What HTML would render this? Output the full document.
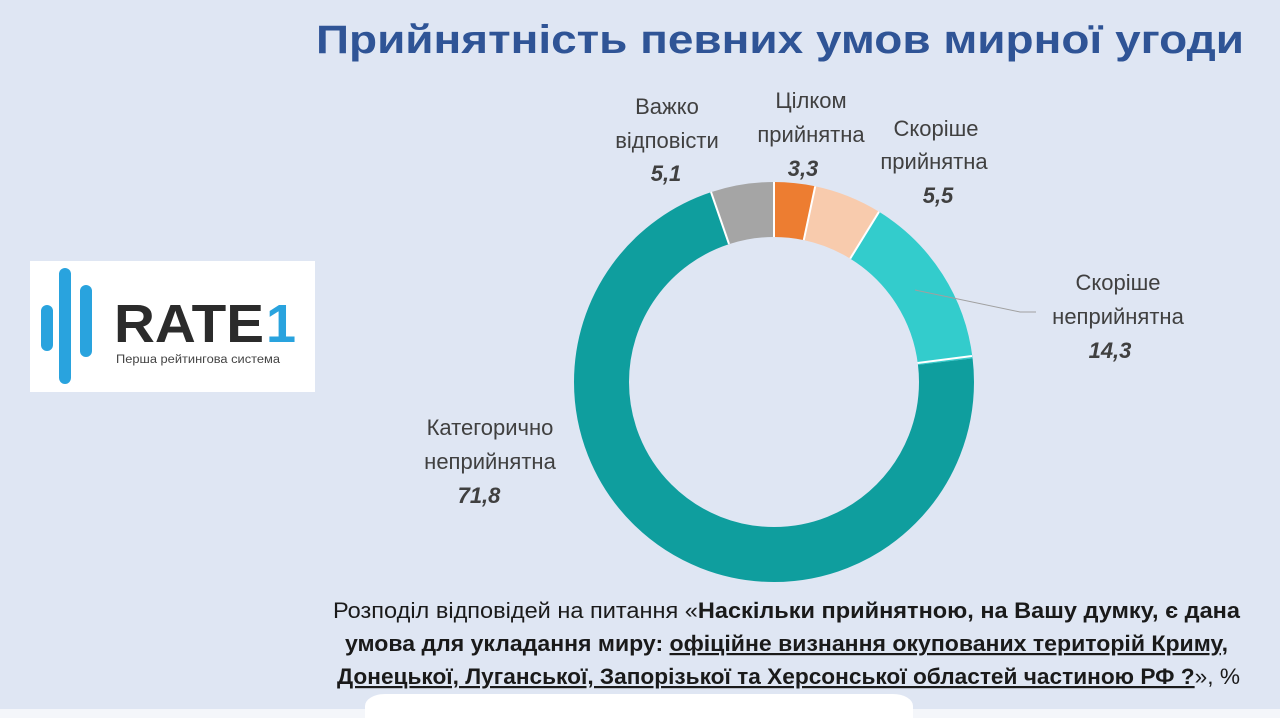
<!DOCTYPE html>
<html><head><meta charset="utf-8"><style>
html,body{margin:0;padding:0;overflow:hidden;}
body{width:1280px;height:718px;overflow:hidden;background:#dfe6f3;font-family:"Liberation Sans",sans-serif;position:relative;}
svg{display:block;overflow:hidden;}
</style></head><body>
<svg width="1280" height="718" viewBox="0 0 1280 718" xmlns="http://www.w3.org/2000/svg" style="position:absolute;left:0;top:0">
<rect width="1280" height="718" fill="#dfe6f3"/>
<rect x="0" y="709" width="1280" height="9" fill="#f4f6fa"/>
<rect x="365" y="694" width="548" height="24" rx="20" fill="#ffffff"/>
<rect x="365" y="706" width="548" height="12" fill="#ffffff"/>
<text x="780" y="53" font-size="40" font-weight="bold" fill="#2f5496" text-anchor="middle" textLength="928" lengthAdjust="spacingAndGlyphs">Прийнятність певних умов мирної угоди</text>
<!-- logo -->
<rect x="30" y="261" width="285" height="131" fill="#ffffff"/>
<rect x="41" y="305" width="12" height="46" rx="6" fill="#29a3de"/>
<rect x="59" y="268" width="12" height="116" rx="6" fill="#29a3de"/>
<rect x="80" y="285" width="12" height="72" rx="6" fill="#29a3de"/>
<text x="114" y="342" font-size="54" font-weight="bold" fill="#2b2b2b" textLength="150" lengthAdjust="spacingAndGlyphs">RATE</text>
<text x="266" y="342" font-size="54" font-weight="bold" fill="#29a3de">1</text>
<text x="116" y="363" font-size="11.5" fill="#444" textLength="164" lengthAdjust="spacingAndGlyphs">Перша рейтингова система</text>
<!-- donut -->
<g transform="rotate(-90 774 382)" fill="none" stroke-width="55">
<circle cx="774" cy="382" r="172.5" stroke="#ed7d31" stroke-dasharray="35.77 1048.08" stroke-dashoffset="0"/>
<circle cx="774" cy="382" r="172.5" stroke="#f8cbad" stroke-dasharray="59.61 1024.24" stroke-dashoffset="-35.77"/>
<circle cx="774" cy="382" r="172.5" stroke="#33cccc" stroke-dasharray="155.0 928.85" stroke-dashoffset="-95.38"/>
<circle cx="774" cy="382" r="172.5" stroke="#0f9e9e" stroke-dasharray="778.2 305.65" stroke-dashoffset="-250.38"/>
<circle cx="774" cy="382" r="172.5" stroke="#a5a5a5" stroke-dasharray="55.28 1028.57" stroke-dashoffset="-1028.58"/>
</g>
<g stroke="#ffffff" stroke-width="2">
<line x1="774" y1="182" x2="774" y2="237"/>
<line x1="815.2" y1="186.3" x2="803.8" y2="240.1"/>
<line x1="879" y1="211.8" x2="850.2" y2="258.6"/>
<line x1="972" y1="356" x2="917.6" y2="363"/>
<line x1="711" y1="192" x2="729" y2="244"/>
</g>
<polyline points="915,290 1020,312 1036,312" fill="none" stroke="#a0a0a0" stroke-width="1"/>
<g font-size="22" fill="#404040" text-anchor="middle">
<text x="667" y="114">Важко</text>
<text x="667" y="148">відповісти</text>
<text x="666" y="181" font-weight="bold" font-style="italic">5,1</text>
<text x="811" y="108">Цілком</text>
<text x="811" y="142">прийнятна</text>
<text x="803" y="176" font-weight="bold" font-style="italic">3,3</text>
<text x="936" y="136">Скоріше</text>
<text x="934" y="169">прийнятна</text>
<text x="938" y="203" font-weight="bold" font-style="italic">5,5</text>
<text x="1118" y="290">Скоріше</text>
<text x="1118" y="324">неприйнятна</text>
<text x="1110" y="358" font-weight="bold" font-style="italic">14,3</text>
<text x="490" y="435">Категорично</text>
<text x="490" y="469">неприйнятна</text>
<text x="479" y="503" font-weight="bold" font-style="italic">71,8</text>
</g>
<g font-size="22" fill="#1a1a1a">
<text x="333" y="618" textLength="907" lengthAdjust="spacingAndGlyphs">Розподіл відповідей на питання «<tspan font-weight="bold">Наскільки прийнятною, на Вашу думку, є дана</tspan></text>
<text x="345" y="651" font-weight="bold" textLength="883" lengthAdjust="spacingAndGlyphs">умова для укладання миру: <tspan text-decoration="underline">офіційне визнання окупованих територій Криму,</tspan></text>
<text x="337" y="684" textLength="903" lengthAdjust="spacingAndGlyphs"><tspan font-weight="bold" text-decoration="underline">Донецької, Луганської, Запорізької та Херсонської областей частиною РФ ?</tspan>», %</text>
</g>
</svg>
</body></html>
